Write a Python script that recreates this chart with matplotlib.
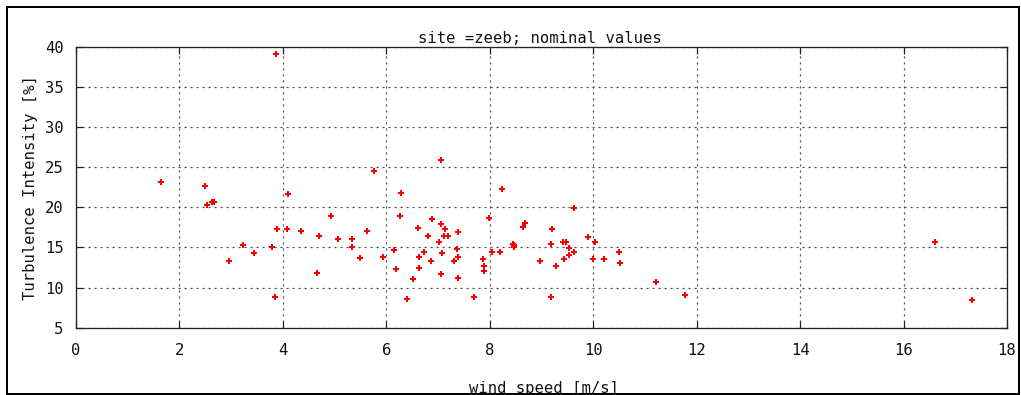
import matplotlib
matplotlib.use("Agg")
import matplotlib.pyplot as plt
from matplotlib.patches import Rectangle

wind_speed = [1.64, 2.49, 2.54, 2.63, 2.67, 2.95, 3.23, 3.44, 3.79, 3.84,
              3.875, 3.88, 4.07, 4.10, 4.35, 4.66, 4.69, 4.93, 5.06, 5.34,
              5.34, 5.49, 5.62, 5.77, 5.93, 6.14, 6.18, 6.27, 6.29, 6.40,
              6.52, 6.61, 6.64, 6.64, 6.73, 6.80, 6.86, 6.89, 7.01, 7.05,
              7.05, 7.05, 7.08, 7.11, 7.14, 7.20, 7.30, 7.36, 7.39, 7.39,
              7.39, 7.70, 7.86, 7.88, 7.89, 7.98, 8.04, 8.19, 8.23, 8.44,
              8.46, 8.47, 8.65, 8.69, 8.97, 9.18, 9.18, 9.21, 9.28, 9.42,
              9.44, 9.47, 9.53, 9.53, 9.62, 9.63, 9.89, 10.0, 10.03, 10.21,
              10.49, 10.52, 11.21, 11.77, 16.61, 17.33]
turbulence = [23.1, 22.7, 20.3, 20.7, 20.7, 13.3, 15.3, 14.3, 15.05, 8.85,
              39.05, 17.3, 17.3, 21.7, 17.1, 11.85, 16.45, 18.9, 16.05, 16.1,
              15.05, 13.7, 17.1, 24.5, 13.85, 14.7, 12.3, 18.9, 21.75, 8.6,
              11.05, 17.45, 13.85, 12.45, 14.45, 16.45, 13.3, 18.5, 15.7, 25.9,
              17.9, 11.65, 14.25, 16.45, 17.25, 16.45, 13.3, 14.85, 16.9, 13.85,
              11.25, 8.85, 13.5, 12.7, 12.05, 18.7, 14.45, 14.45, 22.3, 15.45,
              15.3, 15.05, 17.5, 18.1, 13.3, 15.45, 8.85, 17.3, 12.7, 15.7,
              13.5, 15.7, 14.9, 14.05, 14.45, 19.9, 16.3, 13.5, 15.65, 13.5,
              14.45, 13.05, 10.65, 9.05, 15.65, 8.4]

x_ticks = [0, 2, 4, 6, 8, 10, 12, 14, 16, 18]
y_ticks = [5, 10, 15, 20, 25, 30, 35, 40]
title = "site =zeeb; nominal values"
x_label = "wind speed [m/s]"
y_label = "Turbulence Intensity [%]"

W, H = 1021, 395
fig = plt.figure(figsize=(W / 100, H / 100), dpi=100)
fig.patch.set_facecolor("white")

px = 0.72  # one pixel in points
font = dict(family="DejaVu Sans Mono", size=11.2, color="#111111")

ax = fig.add_axes([76 / W, 1 - 327.7 / H, (1007 - 76) / W, (327.7 - 46.7) / H])
ax.set_xlim(0, 18)
ax.set_ylim(5, 40)
ax.set_xticks(x_ticks)
ax.set_yticks(y_ticks)
ax.set_xticklabels([str(t) for t in x_ticks], **font)
ax.set_yticklabels([str(t) for t in y_ticks], **font)
ax.tick_params(direction="in", length=7 * px, width=1.2 * px, color="#222222",
               top=True, right=True, pad=9)
ax.tick_params(axis="x", pad=11)
for s in ax.spines.values():
    s.set_linewidth(1.3 * px)
    s.set_color("#222222")
ax.grid(True, color="#555555", linewidth=1.2 * px, linestyle=(0, (1.8, 3.2)))
ax.set_axisbelow(True)

ax.plot(wind_speed, turbulence, linestyle="none", marker="P", markersize=4.4,
        color="#ff0000", markeredgewidth=0, zorder=3)

fig.text(540 / W, 1 - 38.5 / H, title, ha="center", va="center", **font)
fig.text(544 / W, 1 - 393 / H, x_label, ha="center", va="baseline", **font)
fig.text(30 / W, 1 - 188 / H, y_label, ha="center", va="center", rotation=90, **font)

fig.add_artist(Rectangle((7 / W, 1 - 394 / H), (1019 - 7) / W, (394 - 7) / H,
                         transform=fig.transFigure, fill=False,
                         edgecolor="black", linewidth=2 * px, zorder=10))

fig.savefig("out.png", dpi=100)
